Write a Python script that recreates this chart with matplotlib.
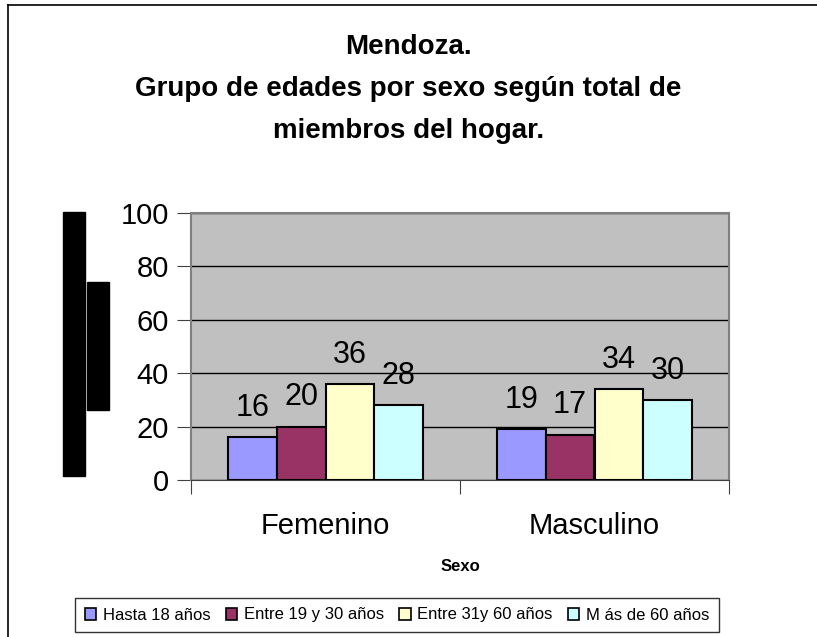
import numpy as np
import matplotlib
matplotlib.use('Agg')
import matplotlib.pyplot as plt
from matplotlib.patches import Rectangle
from matplotlib.lines import Line2D

plt.rcParams['font.family'] = ['Liberation Sans', 'DejaVu Sans']

categories = ['Femenino', 'Masculino']
series_names = ['Hasta 18 años', 'Entre 19 y 30 años', 'Entre 31y 60 años', 'M ás de 60 años']
values = [
    [16, 19],
    [20, 17],
    [36, 34],
    [28, 30],
]
colors = ['#9999FF', '#993366', '#FFFFCC', '#CCFFFF']
yticks = [0, 20, 40, 60, 80, 100]

W, H = 817, 637
fig = plt.figure(figsize=(W / 100, H / 100), dpi=100)

def fx(px):
    return px / W

def fy(py):
    return 1 - py / H

# plot area in pixel terms of the original
ax = fig.add_axes([fx(191), fy(480), fx(729) - fx(191), fy(213) - fy(480)])
ax.set_facecolor('#C0C0C0')

x = np.arange(len(categories))
bw = 1 / 5.5
for i, (name, vals) in enumerate(zip(series_names, values)):
    pos = x + (i - 1.5) * bw
    ax.bar(pos, vals, width=bw, color=colors[i], edgecolor='black',
           linewidth=1.5, label=name, zorder=3)
    for p, v in zip(pos, vals):
        ax.text(p, v + 11, str(v), ha='center', va='center', fontsize=22, zorder=4)

ax.set_xlim(-0.5, 1.5)
ax.set_ylim(0, 100)
ax.set_yticks(yticks)
ax.set_yticklabels([str(t) for t in yticks], fontsize=21)
ax.yaxis.grid(True, color='black', linewidth=1.0, zorder=1)
ax.set_axisbelow(True)

ax.set_xticks([-0.5, 0.5, 1.5])
ax.set_xticklabels([])
ax.set_xticks(x, minor=True)
ax.set_xticklabels(categories, minor=True, fontsize=21)
ax.tick_params(axis='x', which='minor', length=0, pad=23)
ax.tick_params(axis='x', which='major', length=10, color='#404040', direction='out')
ax.tick_params(axis='y', length=10, color='#404040', direction='out', pad=6)

for s in ['top', 'right', 'left']:
    ax.spines[s].set_color('#808080')
    ax.spines[s].set_linewidth(1.5)
ax.spines['bottom'].set_color('#404040')

ax.set_xlabel('Sexo', fontsize=12, fontweight='bold', labelpad=14)

fig.text(0.5, fy(89), 'Mendoza.\nGrupo de edades por sexo según total de\nmiembros del hogar.',
         ha='center', va='center', fontsize=20, fontweight='bold', linespacing=1.8)

# black blocks where the y-axis title was rendered
fig.patches.append(Rectangle((fx(63), fy(476)), fx(85) - fx(63), fy(212) - fy(476),
                             transform=fig.transFigure, color='black'))
fig.patches.append(Rectangle((fx(87), fy(410)), fx(109) - fx(87), fy(282) - fy(410),
                             transform=fig.transFigure, color='black'))

# chart frame (top and left visible)
fig.lines.append(Line2D([fx(8), 1], [fy(5), fy(5)], transform=fig.transFigure, color='black', lw=1.2))
fig.lines.append(Line2D([fx(8), fx(8)], [fy(5), 0], transform=fig.transFigure, color='black', lw=1.2))

leg = fig.legend(loc='center', bbox_to_anchor=(fx(397), fy(615)), ncol=4, fontsize=12,
                 frameon=True, fancybox=False, edgecolor='black', handlelength=0.7,
                 handleheight=0.7, handletextpad=0.4, columnspacing=0.9,
                 borderpad=0.55)
leg.get_frame().set_linewidth(1.0)
for h in leg.legend_handles:
    h.set_linewidth(1.2)

fig.savefig('out.png', dpi=100)
